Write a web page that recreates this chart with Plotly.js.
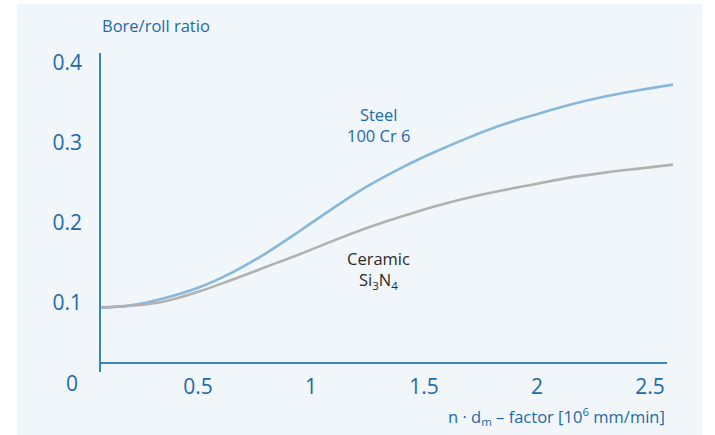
<!DOCTYPE html>
<html>
<head>
<meta charset="utf-8">
<script src="https://cdn.plot.ly/plotly-3.0.1.min.js"></script>
<style>
html,body{margin:0;padding:0;background:#ffffff;}
#panel{position:absolute;left:17px;top:4px;width:685px;height:431px;background:#f1f6fa;}
#chart{position:absolute;left:0;top:0;width:715px;height:435px;}
</style>
</head>
<body>
<div id="panel"></div>
<div id="chart"></div>
<script>
// n·dm factor [10^6 mm/min]
var steelX = [0.066, 0.20, 0.35, 0.50, 0.65, 0.80, 0.95, 1.10, 1.25, 1.40, 1.55, 1.70, 1.85, 2.00, 2.15, 2.30, 2.45, 2.602];
var steelY = [0.094, 0.097, 0.106, 0.119, 0.138, 0.162, 0.190, 0.219, 0.246, 0.269, 0.289, 0.307, 0.323, 0.336, 0.348, 0.358, 0.366, 0.373];
var ceramicX = [0.066, 0.20, 0.35, 0.50, 0.65, 0.80, 0.95, 1.10, 1.25, 1.40, 1.55, 1.70, 1.85, 2.00, 2.15, 2.30, 2.45, 2.602];
var ceramicY = [0.0945, 0.0965, 0.102, 0.114, 0.129, 0.145, 0.161, 0.178, 0.194, 0.208, 0.221, 0.232, 0.241, 0.249, 0.257, 0.263, 0.268, 0.273];
var xTicks = [0.5, 1, 1.5, 2, 2.5];
var xTickText = ['0.5', '1', '1.5', '2', '2.5'];
var yTicks = [0.1, 0.2, 0.3, 0.4];
var yTickText = ['0.1', '0.2', '0.3', '0.4'];

var blue = '#1d6aa8';
var axisBlue = '#3a85c0';
var font = 'Open Sans, sans-serif';

var traces = [
  {x: steelX, y: steelY, mode: 'lines', line: {color: '#87b7db', width: 2.6, shape: 'spline', smoothing: 1}, hoverinfo: 'skip'},
  {x: ceramicX, y: ceramicY, mode: 'lines', line: {color: '#b1b1b1', width: 2.6, shape: 'spline', smoothing: 1}, hoverinfo: 'skip'}
];

var layout = {
  width: 715, height: 435,
  margin: {l: 100, r: 42, t: 53, b: 63},
  paper_bgcolor: 'rgba(0,0,0,0)',
  plot_bgcolor: 'rgba(0,0,0,0)',
  showlegend: false,
  font: {family: font, color: blue},
  xaxis: {
    range: [0.066, 2.602], showgrid: false, zeroline: false, showline: false,
    tickvals: xTicks, ticktext: xTickText, ticks: '', tickfont: {size: 21, color: blue},
    ticklabelstandoff: 0
  },
  yaxis: {
    range: [0.01375, 0.4125], showgrid: false, zeroline: false, showline: false,
    tickvals: yTicks, ticktext: yTickText, ticks: '', tickfont: {size: 21, color: blue},
    ticklabelstandoff: 17
  },
  shapes: [
    {type: 'line', xref: 'paper', yref: 'paper', x0: 0, x1: 0, y0: 0, y1: 1, line: {color: axisBlue, width: 2}},
    {type: 'line', xref: 'paper', yref: 'y', x0: 0, x1: (667 - 100) / 573, y0: 0.025, y1: 0.025, line: {color: axisBlue, width: 2}}
  ],
  annotations: [
    {xref: 'paper', yref: 'paper', x: 0, y: 1, xanchor: 'left', yanchor: 'bottom', yshift: 14, showarrow: false,
     text: 'Bore/roll ratio', font: {size: 16.5, color: blue, family: font}},
    {xref: 'paper', yref: 'paper', x: 1 - 6 / 573, y: 0, xanchor: 'right', yanchor: 'top', yshift: -30, showarrow: false,
     text: 'n · d<sub>m</sub> – factor [10<sup>6</sup> mm/min]', font: {size: 16.5, color: blue, family: font}},
    {xref: 'paper', yref: 'paper', x: -28 / 573, y: 0, xanchor: 'center', yanchor: 'middle', yshift: -11, showarrow: false,
     text: '0', font: {size: 21, color: blue, family: font}},
    {xref: 'x', yref: 'y', x: 1.297, y: 0.3225, xanchor: 'center', yanchor: 'middle', showarrow: false,
     text: 'Steel<br>100 Cr 6', font: {size: 16.5, color: blue, family: font}},
    {xref: 'x', yref: 'y', x: 1.297, y: 0.141, xanchor: 'center', yanchor: 'middle', showarrow: false,
     text: 'Ceramic<br>Si<sub>3</sub>N<sub>4</sub>', font: {size: 16.5, color: '#2b2b2b', family: font}}
  ]
};

Plotly.newPlot('chart', traces, layout, {displayModeBar: false, staticPlot: true});
</script>
</body>
</html>
